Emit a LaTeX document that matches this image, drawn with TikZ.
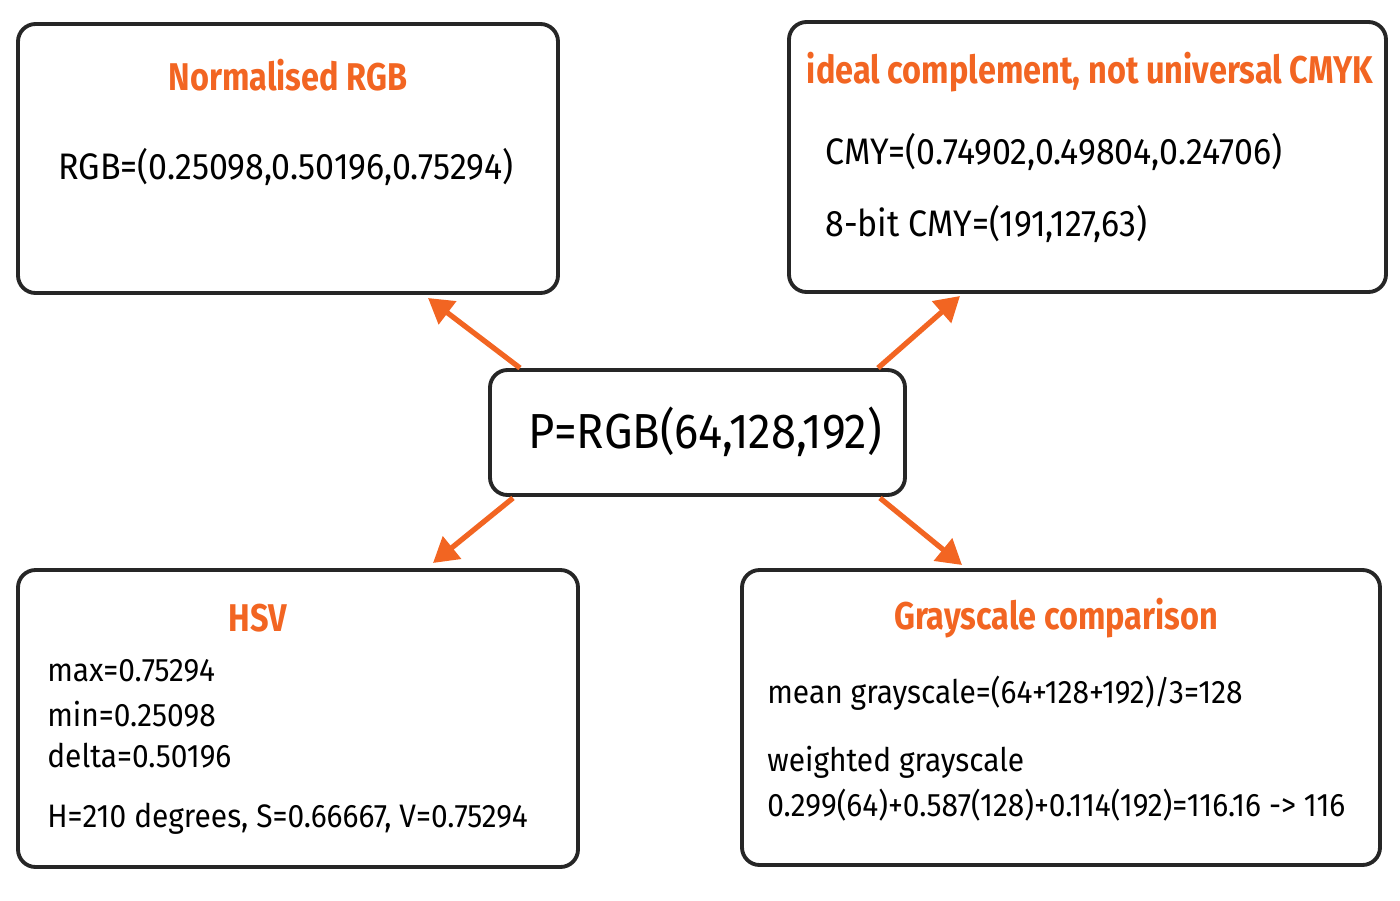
\documentclass[tikz,border=0pt]{standalone}
\usepackage{fontspec}
\setmainfont{Fira Sans}[FakeStretch=0.84]
\newfontfamily\bodyfont{Fira Sans}[FakeStretch=0.92]
\usetikzlibrary{arrows.meta}
\definecolor{accent}{HTML}{F26522}
\begin{document}
\begin{tikzpicture}[x=0.02cm,y=-0.02cm,
    card/.style={draw=black!85,line width=2.2pt,rounded corners=10pt},
    head/.style={text=accent,font=\fontsize{22}{26}\selectfont\bfseries},
    body/.style={anchor=west,inner sep=0pt,font=\bodyfont\fontsize{21}{24}\selectfont},
    small/.style={anchor=west,inner sep=0pt,font=\bodyfont\fontsize{18.5}{22}\selectfont},
    link/.style={accent,line width=3pt,-{Triangle[length=14pt,width=16pt]}}]
\useasboundingbox (0,0) rectangle (1400,900);
% boxes
\draw[card] (18,24) rectangle (558,293);
\draw[card] (789,22) rectangle (1386,292);
\draw[card] (18,570) rectangle (578,867);
\draw[card] (742,570) rectangle (1380,865);
\draw[card] (490,370) rectangle (905,495);
\node (p) at (705,432) {\bodyfont\fontsize{28}{32}\selectfont P=RGB(64,128,192)};
% texts
\node[head] (rgb) at (288,75) {Normalised RGB};
\node[body] (rgbv) at (58,167) {RGB=(0.25098,0.50196,0.75294)};
\node[head] (cmy) at (1090,72) {ideal complement, not universal CMYK};
\node[body] (cmyv) at (825,152) {CMY=(0.74902,0.49804,0.24706)};
\node[body] (cmyb) at (825,224) {8-bit CMY=(191,127,63)};
\node[head] (hsv) at (258,618) {HSV};
\node[small] at (47,671) {max=0.75294};
\node[small] at (47,714) {min=0.25098};
\node[small] at (47,756) {delta=0.50196};
\node[small] at (47,819) {H=210 degrees, S=0.66667, V=0.75294};
\node[head] (gray) at (1056,618) {Grayscale comparison};
\node[small] at (767,693) {mean grayscale=(64+128+192)/3=128};
\node[small] at (767,762) {weighted grayscale};
\node[small] at (767,805) {0.299(64)+0.587(128)+0.114(192)=116.16 -> 116};
% arrows
\coordinate (a1) at (520,368); \coordinate (b1) at (428,298);
\coordinate (a2) at (878,368); \coordinate (b2) at (960,296);
\coordinate (a3) at (513,498); \coordinate (b3) at (433,563);
\coordinate (a4) at (880,498); \coordinate (b4) at (962,565);
\foreach \i in {1,...,4} {
    \draw[link] (a\i) -- (b\i);
}
\end{tikzpicture}
\end{document}
